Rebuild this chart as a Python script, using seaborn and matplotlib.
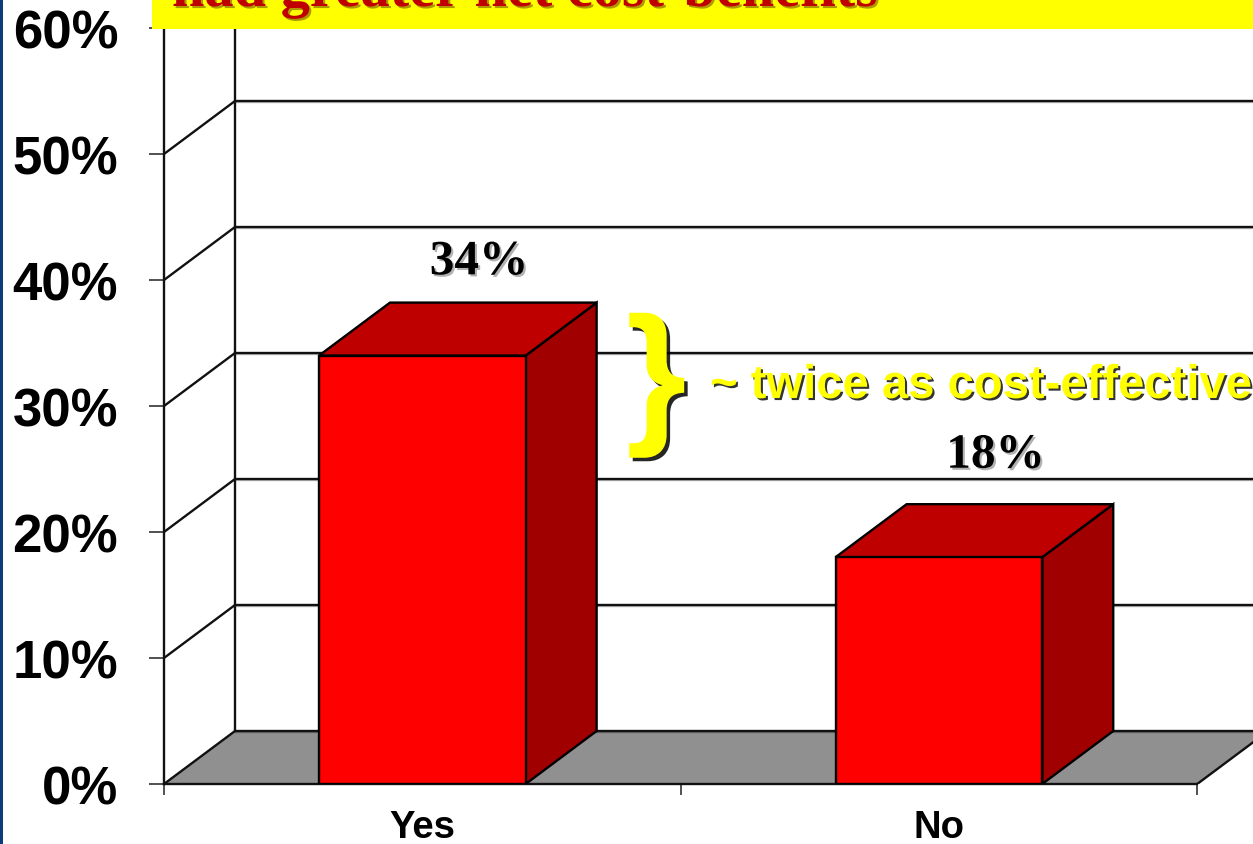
import matplotlib
matplotlib.use("Agg")
import matplotlib.pyplot as plt
import matplotlib.patheffects as pe
from matplotlib.patches import Rectangle
import pandas as pd
import seaborn as sns

# values
answers = ["Yes", "No"]
percent = [34, 18]
y_ticks = [0, 10, 20, 30, 40, 50, 60]
bar_labels = ["34%", "18%"]

W, H = 1253, 845

sns.set_theme(style="white")
plt.rcParams["font.family"] = ["Liberation Sans", "DejaVu Sans"]

df = pd.DataFrame({"answer": answers, "percent": percent})

fig = plt.figure(figsize=(W / 100, H / 100), dpi=100, facecolor="white")
ax = fig.add_axes([164 / W, (H - 785) / H, 1089 / W, 756 / H])

# fake 3D depth, in data units
dx = 71 / 516.5
dy = 53 / 12.6
edge = "#111111"
lw = 1.7

sns.barplot(data=df, x="answer", y="percent", order=answers, width=0.4,
            color="#ff0000", saturation=1, edgecolor="black", linewidth=lw,
            zorder=5, ax=ax)

ax.set_xlim(-0.5, 1.608)
ax.set_ylim(0, 60)
ax.set_xlabel("")
ax.set_ylabel("")

# floor and back wall
ax.fill([-0.5, 1.5, 1.5 + dx, -0.5 + dx], [0, 0, dy, dy], color="#909090",
        lw=0, zorder=1)
ax.plot([-0.5 + dx, -0.5 + dx], [dy, 60 + dy], color=edge, lw=lw, zorder=2)
ax.plot([1.5, 1.5 + dx], [0, dy], color=edge, lw=lw, zorder=2)
for v in y_ticks:
    ax.plot([-0.5, -0.5 + dx], [v, v + dy], color=edge, lw=lw, zorder=2)
    ax.plot([-0.5 + dx, 1.5 + dx], [v + dy, v + dy], color=edge, lw=lw, zorder=2,
            path_effects=[pe.SimpleLineShadow(offset=(0, -1), alpha=0.3), pe.Normal()])

# side and top faces of the bars
label_gaps = [1.45, 2.1]  # the two value labels don't sit at the same height
for bar, label, gap in zip(ax.patches, bar_labels, label_gaps):
    x0, x1 = bar.get_x(), bar.get_x() + bar.get_width()
    h = bar.get_height()
    ax.fill([x1, x1 + dx, x1 + dx, x1], [0, dy, h + dy, h], facecolor="#a00000",
            edgecolor="black", lw=lw, zorder=4)
    ax.fill([x0, x1, x1 + dx, x0 + dx], [h, h, h + dy, h + dy], facecolor="#bf0000",
            edgecolor="black", lw=lw, zorder=4)
    ax.text((x0 + x1) / 2 + dx - 0.028, h + dy + gap, label, ha="center", va="bottom",
            family="Liberation Serif", fontweight="bold", fontsize=35.5, color="black",
            path_effects=[pe.withSimplePatchShadow(offset=(1.5, -1.5), alpha=0.3)],
            zorder=7)

# axes: ticks sit on the category edges, labels in the middle
sns.despine(ax=ax, top=True, right=True)
ax.spines["bottom"].set_bounds(-0.5, 1.5)
for s in ["left", "bottom"]:
    ax.spines[s].set_linewidth(lw)
    ax.spines[s].set_color(edge)
ax.set_yticks(y_ticks)
ax.set_yticklabels([f"{v}%" for v in y_ticks], fontsize=38, fontweight="bold", color="black")
ax.set_xticks([-0.5, 0.5, 1.5])
ax.set_xticklabels([])
ax.set_xticks([0, 1], minor=True)
ax.set_xticklabels(answers, minor=True, fontsize=27.5, fontweight="bold", color="black")
ax.tick_params(axis="y", left=True, length=11, width=1.2, color="#333333", pad=22)
ax.tick_params(axis="x", which="major", bottom=True, length=8, width=1.2, color="#333333")
ax.tick_params(axis="x", which="minor", bottom=False, length=0, pad=18)

# slide decoration
fig.add_artist(Rectangle((0, 0), 3 / W, 1, transform=fig.transFigure,
                         facecolor="#0b3d7c", edgecolor="none"))
fig.add_artist(Rectangle((152 / W, (H - 30) / H), (W - 152) / W, 30 / H,
                         transform=fig.transFigure, facecolor="#ffff00",
                         edgecolor="none", zorder=8))
fig.text(172 / W, (H - 7) / H, "had greater net cost-benefits", ha="left", va="baseline",
         family="Liberation Serif", fontweight="bold", fontsize=42, color="#c00000",
         path_effects=[pe.withSimplePatchShadow(offset=(1.5, -1.5), alpha=0.4)], zorder=9)

shadow = [pe.withSimplePatchShadow(offset=(2.5, -2.5), shadow_rgbFace="black", alpha=0.85)]
fig.text(626 / W, (H - 386) / H, "}", ha="left", va="center", fontsize=112, fontweight="bold",
         color="#ffff00", path_effects=shadow, zorder=9)
fig.text(710 / W, (H - 387) / H, "~ twice as cost-effective", ha="left", va="center",
         fontsize=34, fontweight="bold", color="#ffff00",
         path_effects=[pe.withSimplePatchShadow(offset=(1.5, -1.5), shadow_rgbFace="black", alpha=0.8)],
         zorder=9)

fig.savefig("out.png", dpi=100)
